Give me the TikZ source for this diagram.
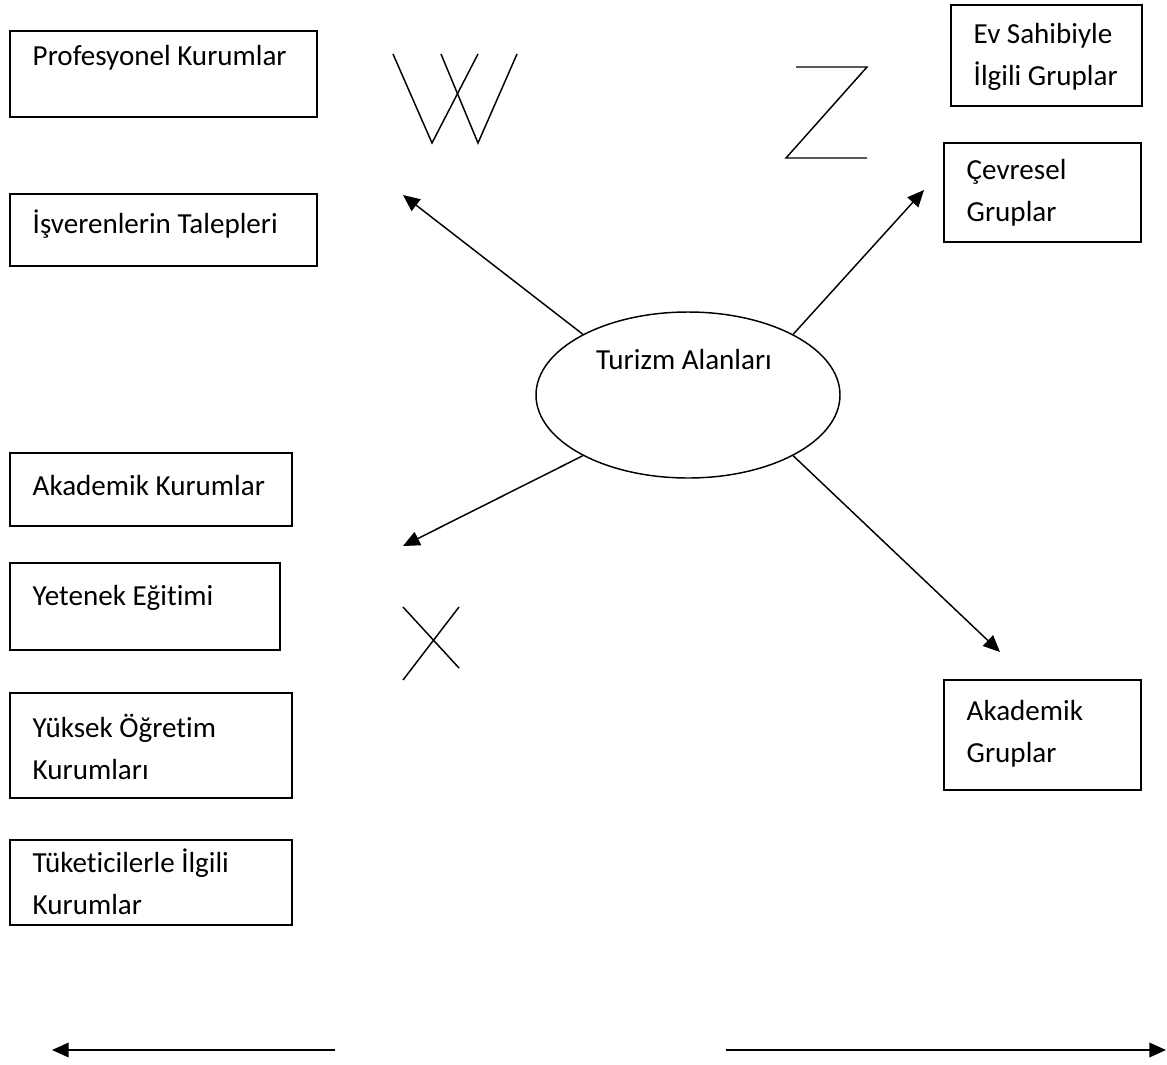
\documentclass[tikz,border=0pt]{standalone}
\usepackage{fontspec}
\setmainfont{Carlito}[Ligatures=NoCommon]
\usetikzlibrary{shapes.geometric,arrows.meta}

\begin{document}
\begin{tikzpicture}[x=0.75pt,y=-0.75pt,line width=1.1pt,>={Triangle[length=12.5pt,width=11pt]},
    txt/.style={anchor=west,align=left,inner sep=0pt,font=\fontsize{21.8}{31.5}\selectfont}]
    \useasboundingbox (0,0) rectangle (1167,1064);
    % left column
    \draw (10,31) rectangle (317,117);
    \node[txt] (prof) at (32,58) {Profesyonel Kurumlar};
    \draw (10,194) rectangle (317,266);
    \node[txt] (isv) at (32,224) {İşverenlerin Talepleri};
    \draw (10,453) rectangle (292,526);
    \node[txt] (akk) at (32,486) {Akademik Kurumlar};
    \draw (10,563) rectangle (280,650);
    \node[txt] (yet) at (32,598) {Yetenek Eğitimi};
    \draw (10,693) rectangle (292,798);
    \node[txt] (yuk) at (32,746.5) {Yüksek Öğretim\\Kurumları};
    \draw (10,840) rectangle (292,925);
    \node[txt] (tuk) at (32,881.5) {Tüketicilerle İlgili\\Kurumlar};
    % right column
    \draw (951,5) rectangle (1142,106);
    \node[txt] (evs) at (973,57) {Ev Sahibiyle\\İlgili Gruplar};
    \draw (944,143) rectangle (1141,242);
    \node[txt] (cev) at (966,192.5) {Çevresel\\Gruplar};
    \draw (944,680) rectangle (1141,790);
    \node[txt] (akg) at (966,734) {Akademik\\Gruplar};
    % centre
    \node[draw,ellipse,minimum width=228pt,minimum height=124.5pt,inner sep=0pt] (ta) at (688,395) {};
    \node[txt,anchor=center] (talbl) at (684,360) {Turizm Alanları};
    \coordinate (w) at (403,195);
    \coordinate (z) at (924,190);
    \coordinate (x) at (403,546);
    \coordinate (y) at (1000,652);
    \draw[->] (ta.150) -- (w);
    \draw[->] (ta.30) -- (z);
    \draw[->] (ta.210) -- (x);
    \draw[->] (ta.-30) -- (y);
    % letters
    \draw (393,54) -- (432,143) -- (478,54);
    \draw (441,54) -- (478,143) -- (517,54);
    \draw (796,67) -- (867,67) -- (786,158) -- (867,158);
    \draw (403,607) -- (459,668);
    \draw (459,607) -- (403,680);
    % bottom
    \coordinate (sola) at (335,1050);
    \coordinate (solb) at (52,1050);
    \coordinate (saga) at (726,1050);
    \coordinate (sagb) at (1166,1050);
    \draw[->] (sola) -- (solb);
    \draw[->] (saga) -- (sagb);
\end{tikzpicture}
\end{document}
